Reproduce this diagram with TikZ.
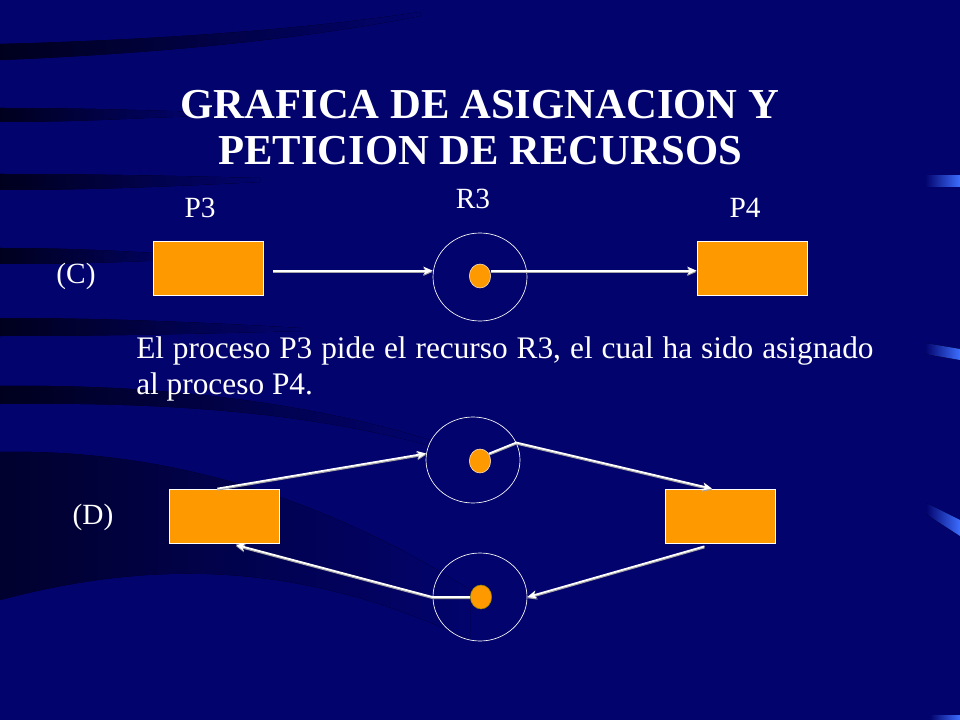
\documentclass[tikz,border=0pt]{standalone}
\usepackage{fontspec}
\setmainfont{Liberation Serif}
\usetikzlibrary{calc,shapes.geometric,arrows.meta}
\definecolor{bgnavy}{RGB}{2,3,108}
\definecolor{bgdark}{RGB}{0,0,30}
\definecolor{boxorange}{RGB}{255,153,0}
\definecolor{tickblue}{RGB}{60,110,255}

\begin{document}
\begin{tikzpicture}[x=0.75pt,y=-0.75pt,
    proc/.style={draw=white,line width=0.6pt,fill=boxorange,minimum width=82.5pt,minimum height=40.5pt,inner sep=0pt},
    res/.style={ellipse,draw=white,line width=0.5pt,minimum width=70.5pt,minimum height=66pt,inner sep=0pt},
    inst/.style={ellipse,draw=white!80!boxorange,line width=0.4pt,fill=boxorange,minimum width=16pt,minimum height=18pt,inner sep=0pt},
    lab/.style={text=white,font=\fontsize{22}{26}\selectfont,anchor=base,inner sep=0pt},
    edge/.style={draw=white,line width=1.3pt,-{Stealth[length=7pt,width=6pt]},
      preaction={draw=gray!70,line width=1.3pt,transform canvas={yshift=-0.9pt}}},
    band/.style={left color=bgdark,right color=bgnavy}]
      % background
      \fill[bgnavy] (0,0) rectangle (960,720);
      \fill[band] (0,44) .. controls (150,40) and (300,30) .. (420,12) -- (420,16) .. controls (300,40) and (150,54) .. (0,60) -- cycle;
      \fill[band] (0,108) .. controls (80,108) and (140,110) .. (200,112) -- (200,116) .. controls (140,118) and (80,122) .. (0,122) -- cycle;
      \fill[band] (0,174) .. controls (100,174) and (180,176) .. (260,178) -- (260,182) .. controls (180,186) and (100,190) .. (0,190) -- cycle;
      \fill[band] (0,248) .. controls (80,248) and (140,252) .. (200,256) -- (200,258) .. controls (140,262) and (80,264) .. (0,264) -- cycle;
      \fill[band] (0,318) .. controls (100,318) and (200,322) .. (300,328) -- (300,331) .. controls (200,334) and (100,336) .. (0,336) -- cycle;
      \fill[band] (0,386) .. controls (150,384) and (300,400) .. (430,440) -- (430,446) .. controls (300,410) and (150,402) .. (0,404) -- cycle;
      \fill[left color=bgdark!80!bgnavy,right color=bgnavy] (0,452) .. controls (200,448) and (360,520) .. (470,590) -- (470,640) .. controls (300,560) and (150,560) .. (0,600) -- cycle;
      % right edge ticks
      \fill[left color=bgnavy,right color=tickblue] (925,176) rectangle (960,187);
      \fill[left color=bgnavy,right color=tickblue] (925,343) -- (960,349) -- (960,360) -- (925,354) -- cycle;
      \fill[left color=bgnavy,right color=tickblue] (926,503) -- (960,520) -- (960,536) -- (926,514) -- cycle;
      \fill[left color=bgnavy,right color=tickblue] (930,715) rectangle (960,720);

      % title
      \node[text=white,font=\bfseries\fontsize{32}{35}\selectfont,align=center,anchor=base,inner sep=0pt] (title) at (480,165)
        {GRAFICA DE ASIGNACION Y\\PETICION DE RECURSOS};

      % (C)
      \node[lab] (lC) at (76,284) {(C)};
      \node[lab] (lP3) at (200,218) {P3};
      \node[lab] (lR3) at (473,209) {R3};
      \node[lab] (lP4) at (745,218) {P4};
      \node[proc] (pC3) at (208,268) {};
      \node[proc] (pC4) at (752,268) {};
      \node[res] (rC3) at (480,277) {};
      \node[inst] (dC3) at (480,276) {};
      \draw[edge,shorten <=7.5pt] ([yshift=-2pt]pC3.east) -- ([yshift=-2pt]pC3.east -| rC3.west);
      \draw[edge] ([yshift=-2pt]dC3.east |- pC4.west) -- ([yshift=-2pt]pC4.west);

      % text
      \node[lab,anchor=base west,align=left,font=\fontsize{23.5}{26.3}\selectfont] (txt) at (136,394)
        {\makebox[553pt][s]{El proceso P3 pide el recurso R3, el cual ha sido asignado}\\al proceso P4.};

      % (D)
      \node[lab] (lD) at (93,524) {(D)};
      \node[proc] (pD3) at (224,516) {};
      \node[proc] (pD4) at (720,516) {};
      \node[res,minimum height=64.5pt] (rDa) at (473,460) {};
      \node[inst] (dDa) at (480,461) {};
      \node[res] (rDb) at (480,597) {};
      \node[inst,draw=olive] (dDb) at (481,597) {};
      \draw[edge] ([xshift=-5pt]pD3.north) -- (rDa.172);
      \draw[edge] (dDa.40) -- (rDa.22) -- ([xshift=-6pt]pD4.north);
      \draw[edge,shorten <=8pt] ([xshift=-4pt]pD4.south) -- (rDb.east);
      \draw[edge,shorten >=4pt] (dDb.west) -- (rDb.west) -- ([xshift=5pt]pD3.south);
\end{tikzpicture}
\end{document}
